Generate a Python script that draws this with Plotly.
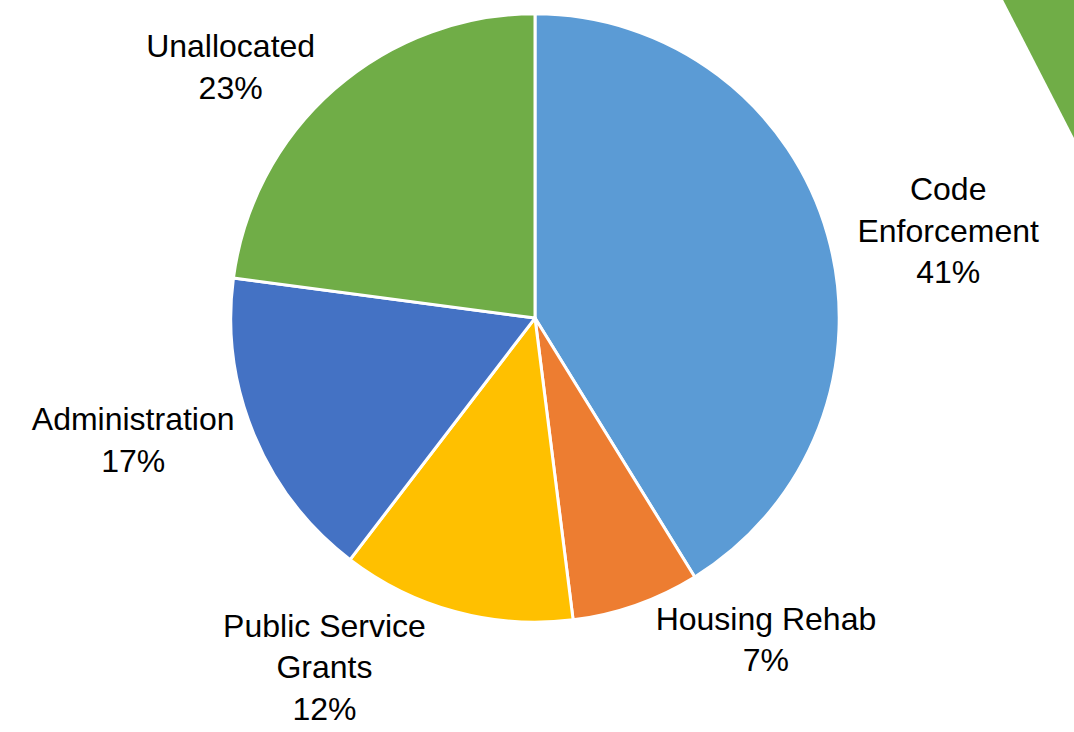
import plotly.graph_objects as go

categories = ["Code<br>Enforcement", "Housing Rehab", "Public Service<br>Grants", "Administration", "Unallocated"]
values = [41.2, 6.8, 12.4, 16.7, 22.9]
colors = ["#5B9BD5", "#ED7D31", "#FFC000", "#4472C4", "#70AD47"]

W, H = 1074, 732
cx, cy, r = 535, 322, 308

fig = go.Figure(go.Pie(
    labels=categories,
    values=values,
    sort=False,
    direction="clockwise",
    rotation=0,
    marker=dict(colors=colors, line=dict(color="white", width=3)),
    textposition="outside",
    texttemplate="%{label}<br>%{percent:.0%}",
    outsidetextfont=dict(family="Liberation Sans, Arial", size=32, color="black"),
    hoverinfo="label+percent",
    showlegend=False,
    domain=dict(x=[(cx - r) / W, (cx + r) / W], y=[(H - cy - r) / H, (H - cy + r) / H]),
))

fig.add_shape(type="path", xref="paper", yref="paper",
              path="M 0.934 1 L 1 1 L 1 0.809 Z",
              fillcolor="#70AD47", line=dict(width=0), layer="below")

fig.update_layout(
    width=W, height=H,
    margin=dict(l=0, r=0, t=0, b=0),
    paper_bgcolor="white", plot_bgcolor="white",
)

fig.write_html("out.html", config={"displayModeBar": False},
               post_script="document.body.style.margin='0';document.body.style.overflow='hidden';")
